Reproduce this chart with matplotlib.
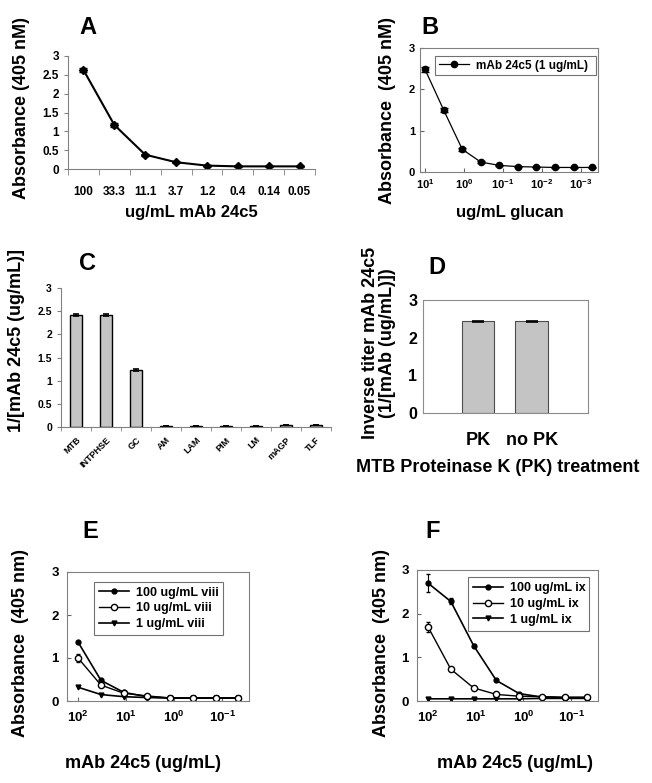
import numpy as np
import matplotlib
matplotlib.use('Agg')
import matplotlib.pyplot as plt
from matplotlib.lines import Line2D

plt.rcParams['font.family'] = ['Liberation Sans', 'DejaVu Sans']
plt.rcParams['font.weight'] = 'bold'
plt.rcParams['mathtext.fontset'] = 'custom'
plt.rcParams['mathtext.rm'] = 'Liberation Sans:bold'
plt.rcParams['mathtext.bf'] = 'Liberation Sans:bold'
plt.rcParams['mathtext.default'] = 'bf'

# panel A
a_labels = ['100', '33.3', '11.1', '3.7', '1.2', '0.4', '0.14', '0.05']
a_vals = [2.63, 1.17, 0.38, 0.18, 0.09, 0.07, 0.07, 0.07]
a_err = [0.05, 0.05, 0.03, 0.01, 0.01, 0.01, 0.01, 0.01]

# panel B
b_conc = [10, 3.33, 1.11, 0.37, 0.123, 0.041, 0.0137, 0.00457, 0.00152, 0.00051]
b_vals = [2.48, 1.5, 0.55, 0.24, 0.16, 0.13, 0.12, 0.11, 0.11, 0.11]
b_err = [0.07, 0.06, 0.04, 0.02, 0.01, 0.01, 0.01, 0.01, 0.01, 0.01]

# panel C
c_labels = ['MTB', 'INTPHSE', 'GC', 'AM', 'LAM', 'PIM', 'LM', 'mAGP', 'TLF']
c_vals = [2.42, 2.42, 1.23, 0.02, 0.02, 0.02, 0.02, 0.04, 0.04]
c_err = [0.02, 0.02, 0.02, 0.005, 0.005, 0.005, 0.005, 0.005, 0.005]

# panel D
d_labels = ['PK', 'no PK']
d_vals = [2.43, 2.43]
d_err = [0.02, 0.02]

# panels E and F
ef_conc = [100, 33.3, 11.1, 3.7, 1.23, 0.41, 0.137, 0.046]
e_100 = [1.37, 0.48, 0.2, 0.1, 0.07, 0.07, 0.07, 0.07]
e_10 = [1.0, 0.37, 0.18, 0.12, 0.07, 0.07, 0.07, 0.07]
e_10_err = [0.1, 0.03, 0.02, 0.01, 0.01, 0.01, 0.01, 0.01]
e_1 = [0.32, 0.15, 0.1, 0.08, 0.07, 0.07, 0.07, 0.07]
f_100 = [2.7, 2.28, 1.27, 0.47, 0.17, 0.09, 0.07, 0.07]
f_100_err = [0.2, 0.07, 0.03, 0.02, 0.01, 0.01, 0.01, 0.01]
f_10 = [1.7, 0.73, 0.3, 0.15, 0.11, 0.1, 0.09, 0.09]
f_10_err = [0.12, 0.03, 0.02, 0.01, 0.01, 0.01, 0.01, 0.01]
f_1 = [0.05, 0.05, 0.05, 0.05, 0.05, 0.06, 0.06, 0.06]

W, H = 652, 783
fig = plt.figure(figsize=(W / 100, H / 100), dpi=100)


def box(x0, y0, x1, y1):
    # pixel box -> figure axes
    return fig.add_axes([x0 / W, 1 - y1 / H, (x1 - x0) / W, (y1 - y0) / H])


def ptext(x, y, s, **kw):
    fig.text(x / W, 1 - y / H, s, ha='center', va='center', **kw)


def legbox(ax, handles, labels, x0, y0, x1, y1, **kw):
    # legend placed in a pixel box
    bb = (x0 / W, 1 - y1 / H, (x1 - x0) / W, (y1 - y0) / H)
    leg = ax.legend(handles, labels, bbox_to_anchor=bb, bbox_transform=fig.transFigure,
                    loc='center', mode='expand', frameon=True, fancybox=False,
                    borderaxespad=0, **kw)
    leg.get_frame().set_edgecolor('0.3')
    leg.get_frame().set_linewidth(0.8)
    return leg


bargray = '#c4c4c4'

# ---------- A ----------
ax = box(68, 56, 315, 169)
x = np.arange(len(a_vals))
ax.errorbar(x, a_vals, yerr=a_err, color='black', marker='D', ms=4, lw=1.5,
            capsize=3, elinewidth=1.2)
ax.set_xlim(-0.5, 7.5)
ax.set_ylim(0, 3)
ax.set_yticks(np.arange(0, 3.01, 0.5))
ax.set_yticklabels(['0', '0.5', '1', '1.5', '2', '2.5', '3'])
ax.set_xticks(x)
ax.set_xticklabels(a_labels)
ax.set_xticks(np.arange(-0.5, 8, 1), minor=True)
ax.tick_params(axis='x', which='major', length=0, pad=12, labelsize=8.5)
ax.tick_params(axis='x', which='minor', length=4, direction='out', color='0.5')
ax.tick_params(axis='y', length=3, color='0.5', labelsize=8.5)
for s in ['top', 'right']:
    ax.spines[s].set_visible(False)
ax.spines['left'].set_color('0.5')
ax.spines['bottom'].set_color('0.5')
ptext(191, 212, 'ug/mL mAb 24c5', fontsize=12, fontweight='bold')
ptext(22, 108, 'Absorbance (405 nM)', fontsize=13, fontweight='bold', rotation=90)
ptext(88, 28, 'A', fontsize=17, fontweight='bold')

# ---------- B ----------
ax = box(420, 48, 598, 172)
ax.errorbar(b_conc, b_vals, yerr=b_err, color='black', marker='o', ms=4.5, lw=0.9,
            capsize=3, elinewidth=1.2)
ax.set_xscale('log')
ax.set_xlim(13.5, 0.00036)
ax.set_ylim(0, 3)
ax.set_yticks([0, 1, 2, 3])
ax.set_xticks([10, 1, 0.1, 0.01, 0.001])
ax.set_xticklabels(['10$^{1}$', '10$^{0}$', '10$^{-1}$', '10$^{-2}$', '10$^{-3}$'])
ax.minorticks_off()
ax.tick_params(length=3, direction='in', labelsize=8, color='0.4')
for s in ax.spines.values():
    s.set_color('0.5')
h = Line2D([], [], color='black', marker='o', ms=4.5, lw=0.9)
legbox(ax, [h], ['mAb 24c5 (1 ug/mL)'], 435, 55, 596, 76, fontsize=8.5,
       handlelength=2.6, borderpad=0.3, handletextpad=0.6)
ptext(510, 212, 'ug/mL glucan', fontsize=12, fontweight='bold')
ptext(388, 110, 'Absorbance  (405 nM)', fontsize=13, fontweight='bold', rotation=90)
ptext(430, 28, 'B', fontsize=17, fontweight='bold')

# ---------- C ----------
ax = box(61, 288, 331, 427)
x = np.arange(len(c_vals))
ax.bar(x, c_vals, width=0.43, color=bargray, edgecolor='black', lw=1,
       yerr=c_err, capsize=2.5, error_kw=dict(elinewidth=1.2, capthick=1.2))
ax.set_xlim(-0.5, 8.5)
ax.set_ylim(0, 3)
ax.set_yticks(np.arange(0, 3.01, 0.5))
ax.set_yticklabels(['0', '0.5', '1', '1.5', '2', '2.5', '3'])
ax.set_xticks(x)
ax.set_xticklabels(c_labels, rotation=45, ha='right', rotation_mode='anchor')
ax.set_xticks(np.arange(-0.5, 9, 1), minor=True)
ax.tick_params(axis='x', which='major', length=0, pad=6, labelsize=6.5)
ax.tick_params(axis='x', which='minor', length=3, direction='out', color='0.5')
ax.tick_params(axis='y', length=3, color='0.5', labelsize=7.5)
for s in ['top', 'right']:
    ax.spines[s].set_visible(False)
ax.spines['left'].set_color('0.5')
ax.spines['bottom'].set_color('0.5')
ptext(17, 341, '1/[mAb 24c5 (ug/mL)]', fontsize=13, fontweight='bold', rotation=90)
ptext(88, 264, 'C', fontsize=17, fontweight='bold')

# ---------- D ----------
ax = box(423, 300, 588, 413)
x = np.arange(len(d_vals))
ax.bar(x, d_vals, width=0.61, color=bargray, edgecolor='0.3', lw=0.8,
       yerr=d_err, capsize=4, error_kw=dict(elinewidth=1.2, capthick=1.2))
ax.set_xlim(-1.02, 2.04)
ax.set_ylim(0, 3)
ax.set_yticks([0, 1, 2, 3])
ax.set_xticks(x)
ax.set_xticklabels(d_labels)
ax.tick_params(axis='x', length=0, pad=14, labelsize=13)
ax.tick_params(axis='y', length=0, pad=4, labelsize=11.5)
for s in ax.spines.values():
    s.set_color('0.55')
ptext(498, 467, 'MTB Proteinase K (PK) treatment', fontsize=13, fontweight='bold')
ptext(379, 343, 'Inverse titer mAb 24c5\n(1/[mAb (ug/mL)])', fontsize=13,
      fontweight='bold', rotation=90, linespacing=1.0)
ptext(437, 267, 'D', fontsize=17, fontweight='bold')


# ---------- E and F ----------
def dilution(ax, s100, s10, s1, e100, e10, labs, lbox):
    ax.errorbar(ef_conc, s100, yerr=e100, color='black', marker='o', ms=3.5,
                lw=1.2, capsize=1.5, elinewidth=0.8)
    ax.errorbar(ef_conc, s10, yerr=e10, color='black', marker='o', ms=4.5,
                mfc='white', lw=1.0, capsize=1.5, elinewidth=0.8)
    ax.plot(ef_conc, s1, color='black', marker='v', ms=3.5, lw=1.2)
    ax.set_xscale('log')
    ax.set_xlim(10 ** 2.23, 10 ** -1.56)
    ax.set_ylim(0, 3)
    ax.set_yticks([0, 1, 2, 3])
    ax.set_xticks([100, 10, 1, 0.1])
    ax.set_xticklabels(['10$^{2}$', '10$^{1}$', '10$^{0}$', '10$^{-1}$'])
    ax.minorticks_off()
    ax.tick_params(length=3, direction='in', labelsize=9.5, color='0.4', pad=6)
    for s in ax.spines.values():
        s.set_color('0.5')
    hs = [Line2D([], [], color='black', marker='o', ms=3.5, lw=1.2),
          Line2D([], [], color='black', marker='o', ms=4.5, mfc='white', lw=1.0),
          Line2D([], [], color='black', marker='v', ms=3.5, lw=1.2)]
    legbox(ax, hs, labs, *lbox, fontsize=9, handlelength=2.4,
           borderpad=0.4, labelspacing=0.3, handletextpad=0.6)


ax = box(67, 572, 249, 701)
dilution(ax, e_100, e_10, e_1, None, e_10_err,
         ['100 ug/mL viii', '10 ug/mL viii', '1 ug/mL viii'], (94, 580, 223, 637))
ptext(143, 763, 'mAb 24c5 (ug/mL)', fontsize=13, fontweight='bold')
ptext(21, 643, 'Absorbance  (405 nm)', fontsize=13, fontweight='bold', rotation=90)
ptext(90, 532, 'E', fontsize=17, fontweight='bold')

ax = box(417, 570, 598, 701)
dilution(ax, f_100, f_10, f_1, f_100_err, f_10_err,
         ['100 ug/mL ix', '10 ug/mL ix', '1 ug/mL ix'], (468, 575, 589, 633))
ptext(515, 763, 'mAb 24c5 (ug/mL)', fontsize=13, fontweight='bold')
ptext(381, 643, 'Absorbance  (405 nm)', fontsize=13, fontweight='bold', rotation=90)
ptext(433, 532, 'F', fontsize=17, fontweight='bold')

fig.savefig('out.png', dpi=100)
